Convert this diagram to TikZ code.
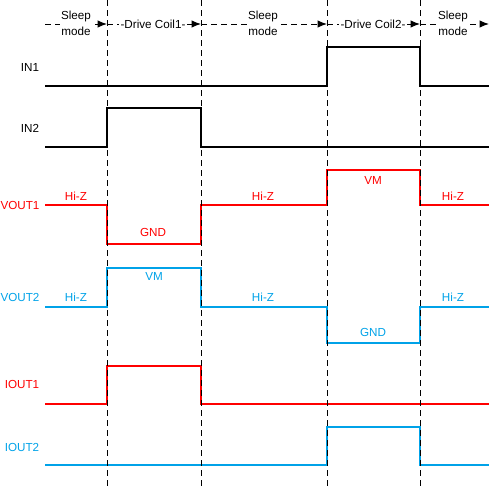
\documentclass[tikz,border=0pt]{standalone}
\usepackage{fontspec}
\setmainfont{Liberation Sans}
\usetikzlibrary{arrows.meta}
\definecolor{sigred}{RGB}{255,0,0}
\definecolor{sigblue}{RGB}{0,162,232}
\begin{document}
\begin{tikzpicture}[x=0.75pt,y=-0.75pt,
  font=\fontsize{8.75pt}{12pt}\selectfont,
  wave/.style={line width=1.5pt, line join=miter},
  guide/.style={line width=0.75pt, dash pattern=on 4.5pt off 3pt},
  hdr/.style={line width=0.75pt, dash pattern=on 4.5pt off 3pt, -{Latex[length=7pt,width=5.5pt]}},
  lbl/.style={inner sep=1pt},
  hdrtxt/.style={fill=white, inner sep=1pt, align=center}]
\useasboundingbox (0,0) rectangle (490,486);

% header coordinates
\coordinate (h0) at (45,24);
\coordinate (h1) at (107,24);
\coordinate (h2) at (201,24);
\coordinate (h3) at (327,24);
\coordinate (h4) at (420,24);
\coordinate (h5) at (489,24);
\draw[hdr] (h0) -- (h1);
\draw[hdr] (h1) -- (h2);
\draw[hdr] (h2) -- (h3);
\draw[hdr] (h3) -- (h4);
\draw[hdr] (h4) -- (h5);
\node[hdrtxt] (s1) at (76,23) {Sleep\\mode};
\node[hdrtxt] (d1) at (153,24) {-Drive Coil1-};
\node[hdrtxt] (s2) at (263,23) {Sleep\\mode};
\node[hdrtxt] (d2) at (373,24) {-Drive Coil2-};
\node[hdrtxt] (s3) at (453,23) {Sleep\\mode};

% signal labels
\node[lbl] (lin1) at (30,67) {IN1};
\node[lbl] (lin2) at (30,128) {IN2};
\node[lbl, text=sigred] (lv1) at (20,205) {VOUT1};
\node[lbl, text=sigblue] (lv2) at (20,297) {VOUT2};
\node[lbl, text=sigred] (li1) at (22,384) {IOUT1};
\node[lbl, text=sigblue] (li2) at (22,447) {IOUT2};

% waveforms
\draw[wave] (45,86) -- (327,86) -- (327,47) -- (420,47) -- (420,86) -- (489,86);
\draw[wave] (45,147) -- (107,147) -- (107,108) -- (201,108) -- (201,147) -- (489,147);
\draw[wave, sigred] (45,205) -- (107,205) -- (107,244) -- (201,244) -- (201,205) -- (327,205) -- (327,170) -- (420,170) -- (420,205) -- (489,205);
\draw[wave, sigblue] (45,307) -- (107,307) -- (107,268) -- (201,268) -- (201,307) -- (327,307) -- (327,343) -- (420,343) -- (420,307) -- (489,307);
\draw[wave, sigred] (45,404) -- (107,404) -- (107,366) -- (201,366) -- (201,404) -- (489,404);
\draw[wave, sigblue] (45,465) -- (327,465) -- (327,427) -- (420,427) -- (420,465) -- (489,465);

% state labels
\node[lbl, text=sigred] (r1) at (76,196) {Hi-Z};
\node[lbl, text=sigred] (r2) at (153,232) {GND};
\node[lbl, text=sigred] (r3) at (263,196) {Hi-Z};
\node[lbl, text=sigred] (r4) at (373,180) {VM};
\node[lbl, text=sigred] (r5) at (453,196) {Hi-Z};
\node[lbl, text=sigblue] (b1) at (76,297) {Hi-Z};
\node[lbl, text=sigblue] (b2) at (154,276) {VM};
\node[lbl, text=sigblue] (b3) at (263,297) {Hi-Z};
\node[lbl, text=sigblue] (b4) at (373,332) {GND};
\node[lbl, text=sigblue] (b5) at (453,297) {Hi-Z};

% time guides
\draw[guide] (107,0) -- (107,486);
\draw[guide] (201,0) -- (201,486);
\draw[guide] (327,0) -- (327,486);
\draw[guide] (420,0) -- (420,486);
\end{tikzpicture}
\end{document}
